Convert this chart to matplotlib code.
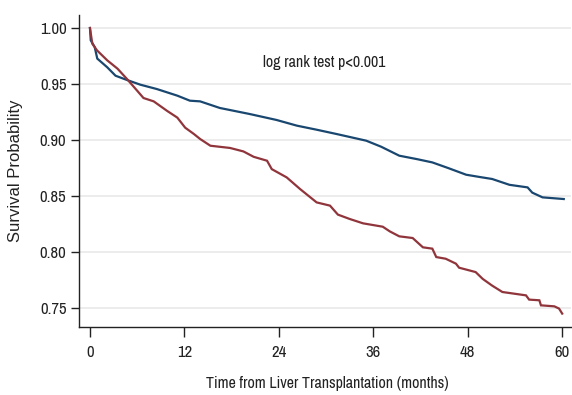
import matplotlib
matplotlib.use("Agg")
import matplotlib.pyplot as plt

plt.rcParams['font.family'] = ['Archivo Narrow', 'Liberation Sans', 'DejaVu Sans']

# Kaplan-Meier curves (months, survival probability)
blue_t = [0, 0.1, 0.6, 0.93, 2.2, 3.25, 4.7, 6.4, 8.5, 11.1, 12.7, 14.0, 16.5, 20.3, 23.7,
          26.3, 28.8, 31.3, 35.1, 37.0, 39.3, 41.5, 43.5, 45.5, 47.8, 49.5, 51.1, 53.3, 55.6,
          56.2, 57.5, 60.2]
blue_s = [1.0, 0.989, 0.983, 0.9727, 0.9649, 0.9574, 0.9536, 0.9494, 0.9455, 0.9396, 0.9351,
          0.9345, 0.9286, 0.9232, 0.9179, 0.9128, 0.9092, 0.9054, 0.8994, 0.894, 0.886, 0.883,
          0.880, 0.875, 0.869, 0.867, 0.8652, 0.860, 0.8577, 0.853, 0.8488, 0.8473]

red_t = [0, 0.3, 0.9, 2.2, 3.5, 4.7, 6.0, 6.8, 8.1, 9.8, 11.1, 12.1, 13.2, 14.0, 15.3, 17.8,
         19.5, 20.8, 22.5, 23.1, 25.0, 26.7, 28.8, 30.5, 31.5, 33.0, 34.7, 37.2, 38.1, 39.3,
         41.0, 42.3, 43.5, 44.0, 45.2, 46.5, 46.9, 49.0, 49.9, 51.1, 52.4, 55.4, 55.8, 57.1,
         57.3, 59.0, 59.6, 60.0]
red_s = [1.0, 0.986, 0.980, 0.9711, 0.9637, 0.9545, 0.944, 0.9375, 0.9345, 0.926, 0.920,
         0.911, 0.9054, 0.9009, 0.8949, 0.8929, 0.8898, 0.885, 0.8815, 0.874, 0.8666, 0.8562,
         0.8443, 0.8414, 0.8334, 0.8295, 0.8256, 0.8226, 0.8184, 0.814, 0.8125, 0.8042, 0.803,
         0.7955, 0.794, 0.7896, 0.786, 0.7821, 0.776, 0.770, 0.7643, 0.7613, 0.7575, 0.7569,
         0.7524, 0.7515, 0.7495, 0.745]

x_ticks = [0, 12, 24, 36, 48, 60]
y_ticks = [0.75, 0.80, 0.85, 0.90, 0.95, 1.00]

fig = plt.figure(figsize=(5.72, 3.95), dpi=100)
ax = fig.add_axes([0.138, 0.172, 0.860, 0.790])

for y in y_ticks:
    ax.axhline(y, color='#eaeaea', lw=1.3, zorder=0)

ax.plot(blue_t, blue_s, color='#1a476f', lw=1.6, zorder=3, solid_joinstyle='miter')
ax.plot(red_t, red_s, color='#90353b', lw=1.6, zorder=3, solid_joinstyle='miter')

ax.set_xlim(-1.4, 61.1)
ax.set_ylim(0.733, 1.0116)
ax.set_xticks(x_ticks)
ax.set_xticklabels([str(v) for v in x_ticks])
ax.set_yticks(y_ticks)
ax.set_yticklabels([f"{v:.2f}" for v in y_ticks])

for s in ['top', 'right']:
    ax.spines[s].set_visible(False)
for s in ['left', 'bottom']:
    ax.spines[s].set_linewidth(1.0)
    ax.spines[s].set_color('#222222')

ax.tick_params(axis='both', direction='out', labelsize=12, colors='#222222', width=1.0)
ax.tick_params(axis='y', length=6, pad=3)
ax.tick_params(axis='x', length=7, pad=6)

fig.text(0.027, 0.568, 'Survival Probability', rotation=90, ha='center', va='center',
         fontsize=12, color='#222222', family=['Liberation Sans', 'DejaVu Sans'])
fig.text(0.573, 0.028, 'Time from Liver Transplantation (months)', ha='center', va='center',
         fontsize=11.5, color='#222222')
ax.text(29.7, 0.9694, 'log rank test p<0.001', ha='center', va='center', fontsize=11.5,
        color='#222222')

fig.savefig('out.png', dpi=100)
